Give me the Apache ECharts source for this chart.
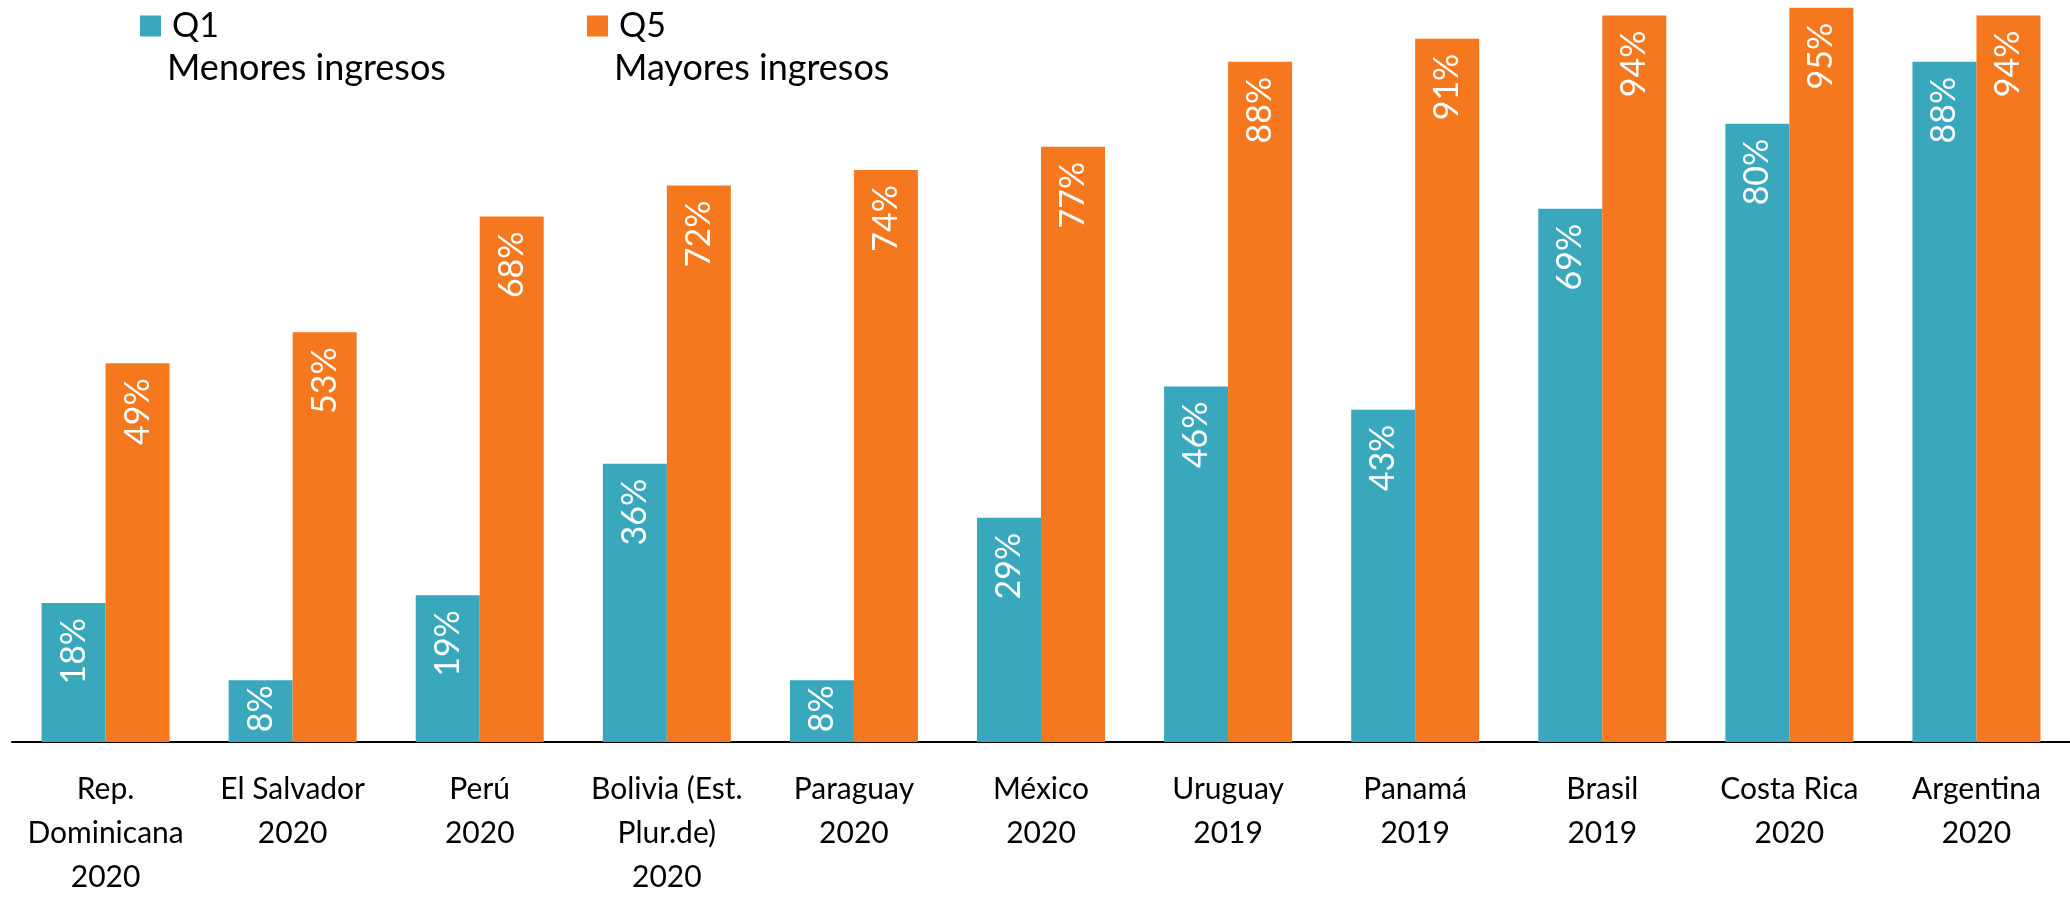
<!DOCTYPE html>
<html>
<head>
<meta charset="utf-8">
<script src="https://cdn.jsdelivr.net/npm/echarts@6/dist/echarts.min.js"></script>
<style>
  html, body { margin: 0; padding: 0; background: #fff; }
  #chart { width: 2070px; height: 899px; }
</style>
</head>
<body>
<div id="chart"></div>
<script>
const countries = [
  "Rep.\nDominicana\n2020",
  "El Salvador\n2020",
  "Perú\n2020",
  "Bolivia (Est.\nPlur.de)\n2020",
  "Paraguay\n2020",
  "México\n2020",
  "Uruguay\n2019",
  "Panamá\n2019",
  "Brasil\n2019",
  "Costa Rica\n2020",
  "Argentina\n2020",
];
const q1 = [18, 8, 19, 36, 8, 29, 46, 43, 69, 80, 88];
const q5 = [49, 53, 68, 72, 74, 77, 88, 91, 94, 95, 94];

const teal = "#39a8bc";
const orange = "#f5781e";
const font = "Lato, 'Open Sans', sans-serif";

const chart = echarts.init(document.getElementById("chart"));

const barLabel = {
  show: true,
  position: "insideTop",
  distance: 15,
  rotate: 90,
  align: "right",
  verticalAlign: "middle",
  color: "#fff",
  fontFamily: font,
  fontSize: 34,
  formatter: (p) => p.value + "%",
};

// short bars: pull the label up so it does not run into the axis
const fitLabel = (params) => {
  const bar = params.rect;
  if (bar.height < 80) {
    return { y: bar.y + 5 };
  }
  return {};
};

const legendText = { fontFamily: font, fontSize: 34, color: "#000", padding: [0, 0, 0, 6] };

chart.setOption({
  animation: false,
  legend: [
    {
      data: ["Q1"],
      left: 135,
      top: 4,
      itemWidth: 21,
      itemHeight: 21,
      icon: "rect",
      textStyle: legendText,
    },
    {
      data: ["Q5"],
      left: 582,
      top: 4,
      itemWidth: 21,
      itemHeight: 21,
      icon: "rect",
      textStyle: legendText,
    },
  ],
  graphic: [
    {
      type: "text",
      left: 167,
      top: 50,
      style: { text: "Menores ingresos", font: "36px " + font, fill: "#000" },
    },
    {
      type: "text",
      left: 614,
      top: 50,
      style: { text: "Mayores ingresos", font: "36px " + font, fill: "#000" },
    },
  ],
  grid: {
    left: 12,
    right: 0,
    top: 0,
    bottom: 146,
  },
  xAxis: {
    type: "category",
    data: countries,
    axisLine: { lineStyle: { color: "#000", width: 2 } },
    axisTick: { show: false },
    axisLabel: {
      interval: 0,
      margin: 25,
      color: "#000",
      fontFamily: font,
      fontSize: 30,
      lineHeight: 44,
    },
  },
  yAxis: {
    type: "value",
    min: 0,
    max: 96,
    show: false,
    splitLine: { show: false },
  },
  series: [
    {
      name: "Q1",
      type: "bar",
      data: q1,
      itemStyle: { color: teal },
      barWidth: 64,
      barGap: "0%",
      label: barLabel,
      labelLayout: fitLabel,
    },
    {
      name: "Q5",
      type: "bar",
      data: q5,
      itemStyle: { color: orange },
      barWidth: 64,
      barGap: "0%",
      label: barLabel,
      labelLayout: fitLabel,
    },
  ],
});

window.addEventListener("resize", () => {
  chart.resize();
});
</script>
</body>
</html>
